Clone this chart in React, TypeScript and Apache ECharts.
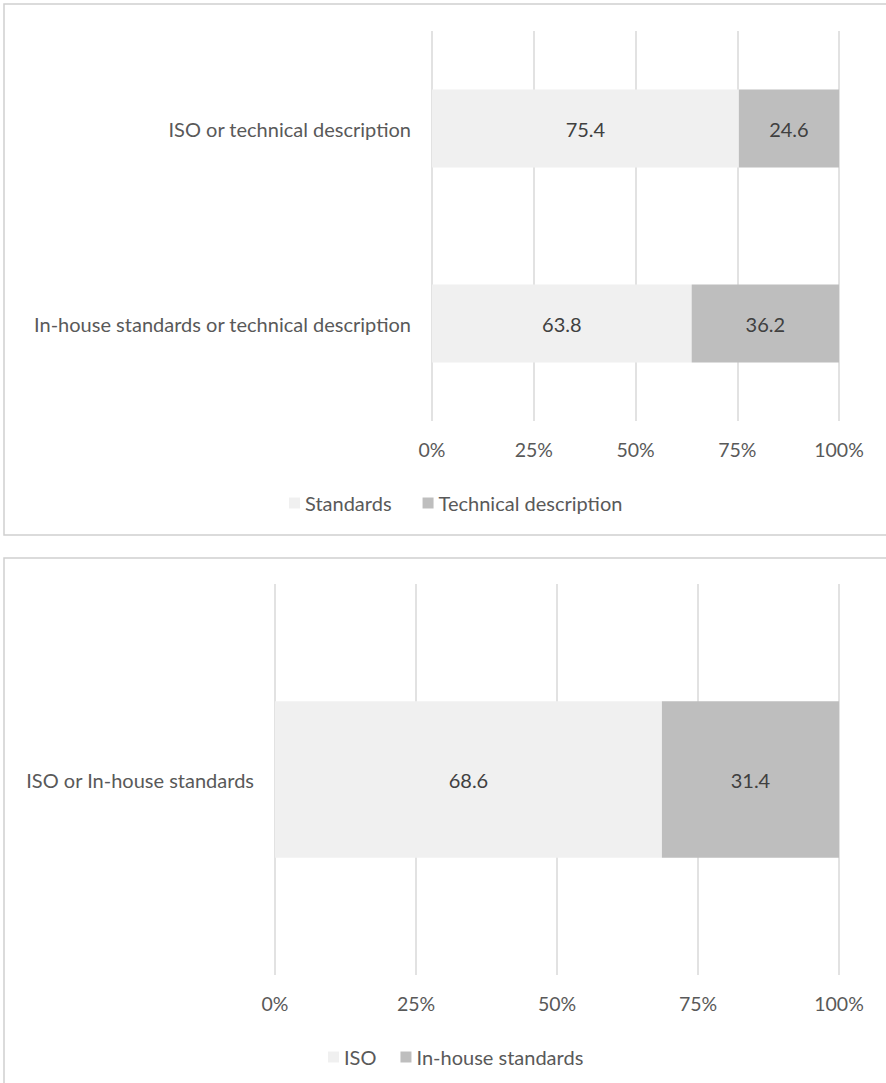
import React, { useEffect, useRef } from "react";
import * as echarts from "echarts";

const categories1 = ["ISO or technical description", "In-house standards or technical description"];
const standards = [75.4, 63.8];
const technicalDescription = [24.6, 36.2];

const categories2 = ["ISO or In-house standards"];
const iso = [68.6];
const inHouse = [31.4];

const ticks = [0, 25, 50, 75, 100];

const LIGHT = "#f0f0f0";
const DARK = "#bebebe";
const TEXT = "#595959";
const FONT = "Lato";
const FS = 20;

export default function App() {
  const ref = useRef<HTMLDivElement>(null);
  useEffect(() => {
    document.body.style.margin = "0";
    const chart = echarts.init(ref.current!, null, { renderer: "svg" });
    const valueAxis = (gridIndex: number) => ({
      type: "value",
      gridIndex,
      min: 0,
      max: 100,
      interval: 25,
      axisLine: { show: false },
      axisTick: { show: false },
      splitLine: { show: true, lineStyle: { color: "#d9d9d9", width: 1.5 } },
      axisLabel: {
        formatter: (v: number) => (ticks.includes(v) ? v + "%" : ""),
        color: TEXT,
        fontFamily: FONT,
        fontSize: 19.5,
        margin: 18,
      },
    });
    const catAxis = (gridIndex: number, data: string[]) => ({
      type: "category",
      gridIndex,
      data,
      inverse: true,
      axisLine: { show: false },
      axisTick: { show: false },
      axisLabel: { color: TEXT, fontFamily: FONT, fontSize: FS, margin: 21 },
    });
    const label = {
      show: true,
      position: "inside",
      color: "#404040",
      fontFamily: FONT,
      fontSize: FS,
      formatter: (p: any) => p.value.toFixed(1),
    };
    chart.setOption({
      animation: false,
      backgroundColor: "#ffffff",
      graphic: [
        { type: "rect", shape: { x: 4, y: 4, width: 890, height: 531 }, style: { fill: "none", stroke: "#d0d0d0", lineWidth: 1.5 } },
        { type: "rect", shape: { x: 4, y: 558, width: 890, height: 540 }, style: { fill: "none", stroke: "#d0d0d0", lineWidth: 1.5 } },
      ],
      grid: [
        { left: 432, right: 47, top: 31, height: 390 },
        { left: 275, right: 47, top: 584, height: 391 },
      ],
      xAxis: [valueAxis(0), valueAxis(1)],
      yAxis: [catAxis(0, categories1), catAxis(1, categories2)],
      legend: [
        {
          data: ["Standards", "Technical description"],
          left: 284,
          top: 488,
          itemWidth: 11,
          itemHeight: 11,
          itemGap: 31,
          icon: "rect",
          textStyle: { color: TEXT, fontFamily: FONT, fontSize: FS },
        },
        {
          data: ["ISO", "In-house standards"],
          left: 323,
          top: 1042,
          itemWidth: 11,
          itemHeight: 11,
          itemGap: 24,
          icon: "rect",
          textStyle: { color: TEXT, fontFamily: FONT, fontSize: FS },
        },
      ],
      series: [
        { name: "Standards", type: "bar", stack: "a", xAxisIndex: 0, yAxisIndex: 0, data: standards, barWidth: "40%", itemStyle: { color: LIGHT }, label },
        { name: "Technical description", type: "bar", stack: "a", xAxisIndex: 0, yAxisIndex: 0, data: technicalDescription, barWidth: "40%", itemStyle: { color: DARK }, label },
        { name: "ISO", type: "bar", stack: "b", xAxisIndex: 1, yAxisIndex: 1, data: iso, barWidth: "40%", itemStyle: { color: LIGHT }, label },
        { name: "In-house standards", type: "bar", stack: "b", xAxisIndex: 1, yAxisIndex: 1, data: inHouse, barWidth: "40%", itemStyle: { color: DARK }, label },
      ],
    });
    return () => chart.dispose();
  }, []);
  return <div ref={ref} style={{ width: 886, height: 1083, position: "absolute", left: 0, top: 0 }} />;
}
